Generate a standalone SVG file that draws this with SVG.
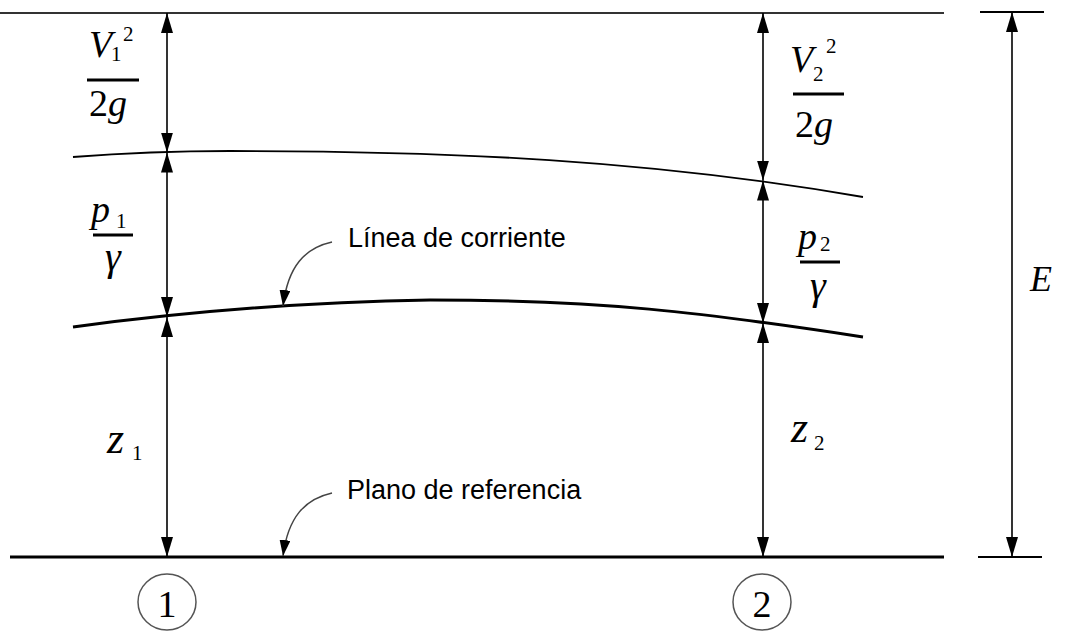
<svg xmlns="http://www.w3.org/2000/svg" width="1065" height="632" viewBox="0 0 1065 632">
<style>
.dim{stroke:#000;stroke-width:1.6;fill:none;marker-start:url(#ah);marker-end:url(#ah)}
.lead{stroke:#444;stroke-width:1.5;fill:none;marker-end:url(#la)}
.m{font-family:"Liberation Serif","Times New Roman",serif;fill:#000}
.i{font-style:italic}
.s{font-size:21px}
.lbl{font-family:"Liberation Sans",Arial,sans-serif;font-size:27px;fill:#000}
.bar{stroke:#000;stroke-width:3}
</style>
<defs>
<marker id="ah" markerUnits="userSpaceOnUse" markerWidth="20" markerHeight="12" viewBox="0 0 20 12" refX="20" refY="6" orient="auto-start-reverse">
<path d="M0,0 L20,6 L0,12 z" fill="#000"/>
</marker>
<marker id="la" markerUnits="userSpaceOnUse" markerWidth="16" markerHeight="11" viewBox="0 0 16 11" refX="16" refY="5.5" orient="auto">
<path d="M0,0 L16,5.5 L0,11 z" fill="#000"/>
</marker>
</defs>
<rect width="1065" height="632" fill="#fff"/>
<g id="lines">
<line x1="0" y1="13" x2="944" y2="13" stroke="#333" stroke-width="2"/>
<line x1="10" y1="557" x2="944" y2="557" stroke="#000" stroke-width="3"/>
<path id="energy-line" d="M73,157 Q150,151 230,151 C450,151 650,160 863,197" stroke="#000" stroke-width="1.8" fill="none"/>
<path id="streamline" d="M73,327 Q250,303 430,300 C600,300 700,312 863,337" stroke="#000" stroke-width="3" fill="none"/>
<line x1="980" y1="12" x2="1044" y2="12" stroke="#000" stroke-width="1.8"/>
<line x1="978" y1="557" x2="1042" y2="557" stroke="#000" stroke-width="1.8"/>
</g>
<g id="connectors">
<line class="dim" x1="167" y1="13" x2="167" y2="152.5"/>
<line class="dim" x1="167" y1="152.5" x2="167" y2="317"/>
<line class="dim" x1="167" y1="317" x2="167" y2="557"/>
<line class="dim" x1="763" y1="13" x2="763" y2="180.5"/>
<line class="dim" x1="763" y1="180.5" x2="763" y2="323"/>
<line class="dim" x1="763" y1="323" x2="763" y2="557"/>
<line class="dim" x1="1012" y1="12" x2="1012" y2="557"/>
<path class="lead" d="M332,242 C305,248 288,266 283,306"/>
<path class="lead" d="M332,493 C305,499 288,517 283,556"/>
</g>
<g id="label-v1">
<text class="m i" x="89" y="57" font-size="38">V</text>
<text class="m s" x="111" y="61">1</text>
<text class="m s" x="123" y="41">2</text>
<line class="bar" x1="87" y1="80" x2="139" y2="80"/>
<text class="m" x="89" y="116" font-size="38">2<tspan class="i">g</tspan></text>
</g>
<g id="label-v2">
<text class="m i" x="790" y="72" font-size="38">V</text>
<text class="m s" x="813" y="81">2</text>
<text class="m s" x="826" y="53">2</text>
<line class="bar" x1="793" y1="94" x2="844" y2="94"/>
<text class="m" x="795" y="137" font-size="38">2<tspan class="i">g</tspan></text>
</g>
<g id="label-p1">
<text class="m i" x="91" y="222" font-size="38">p</text>
<text class="m s" x="116" y="228">1</text>
<line class="bar" x1="93" y1="235" x2="133" y2="235"/>
<text class="m i" x="113" y="270" font-size="40" text-anchor="middle">γ</text>
</g>
<g id="label-p2">
<text class="m i" x="798" y="249" font-size="38">p</text>
<text class="m s" x="820" y="251">2</text>
<line class="bar" x1="800" y1="262" x2="840" y2="262"/>
<text class="m i" x="818" y="299" font-size="40" text-anchor="middle">γ</text>
</g>
<g id="label-z1">
<text class="m i" x="107" y="453" font-size="44">z</text>
<text class="m s" x="132" y="460">1</text>
</g>
<g id="label-z2">
<text class="m i" x="791" y="442" font-size="44">z</text>
<text class="m s" x="814" y="450">2</text>
</g>
<g id="label-e">
<text class="m i" x="1030" y="291" font-size="36">E</text>
</g>
<g id="label-streamline">
<text class="lbl" x="348" y="247">Línea de corriente</text>
</g>
<g id="label-datum">
<text class="lbl" x="347" y="499">Plano de referencia</text>
</g>
<g id="section-1">
<ellipse cx="167" cy="602" rx="29" ry="28" fill="none" stroke="#555" stroke-width="1.5"/>
<text class="m" x="167" y="617" font-size="38" text-anchor="middle">1</text>
</g>
<g id="section-2">
<ellipse cx="762" cy="602" rx="29" ry="28" fill="none" stroke="#555" stroke-width="1.5"/>
<text class="m" x="762" y="617" font-size="38" text-anchor="middle">2</text>
</g>
</svg>
